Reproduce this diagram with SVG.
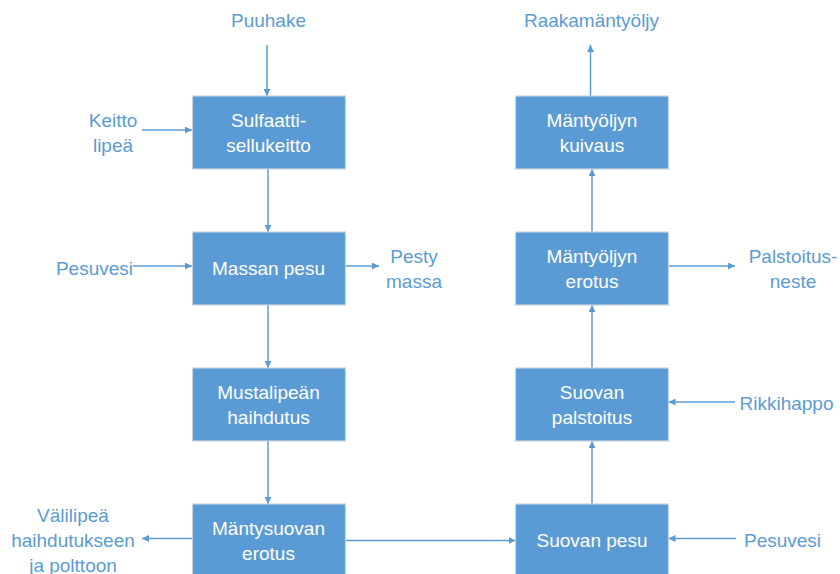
<svg xmlns="http://www.w3.org/2000/svg" width="840" height="574" viewBox="0 0 840 574">
<style>
.box{fill:#5B9BD5;stroke:#C9D3DF;stroke-width:1.2}
.bt{fill:#FFFFFF;font-family:"Liberation Sans",Arial,sans-serif;font-size:19px;text-anchor:middle}
.lt{fill:#5B9BD5;font-family:"Liberation Sans",Arial,sans-serif;font-size:19px}
.c{stroke:#5B9BD5;stroke-width:1.5;fill:none;marker-end:url(#ah)}
</style>
<defs>
<marker id="ah" viewBox="0 0 10 10" refX="10" refY="5" markerWidth="7" markerHeight="7" markerUnits="userSpaceOnUse" orient="auto">
<path d="M0,0 L10,5 L0,10 Z" fill="#5B9BD5"/>
</marker>
</defs>
<rect width="840" height="574" fill="#FFFFFF"/>
<g id="connectors">
<line class="c" x1="267" y1="45" x2="267" y2="96"/>
<line class="c" x1="142" y1="130" x2="192" y2="130"/>
<line class="c" x1="268" y1="169" x2="268" y2="232"/>
<line class="c" x1="133" y1="266" x2="192" y2="266"/>
<line class="c" x1="345" y1="266" x2="379" y2="266"/>
<line class="c" x1="268" y1="305" x2="268" y2="368"/>
<line class="c" x1="268" y1="441" x2="268" y2="504"/>
<line class="c" x1="192" y1="538.5" x2="142" y2="538.5"/>
<line class="c" x1="345" y1="540.5" x2="515.5" y2="540.5"/>
<line class="c" x1="592" y1="504" x2="592" y2="441"/>
<line class="c" x1="592" y1="368" x2="592" y2="305"/>
<line class="c" x1="592" y1="232" x2="592" y2="169"/>
<line class="c" x1="590.5" y1="96" x2="590.5" y2="45"/>
<line class="c" x1="668.5" y1="266" x2="735" y2="266"/>
<line class="c" x1="735" y1="402" x2="668.5" y2="402"/>
<line class="c" x1="736" y1="538.5" x2="668.5" y2="538.5"/>
</g>
<g id="n1"><rect class="box" x="192.5" y="96" width="153" height="73"/><text class="bt" x="268.5" y="127">Sulfaatti-</text><text class="bt" x="268.5" y="152">sellukeitto</text></g>
<g id="n2"><rect class="box" x="192.5" y="232" width="153" height="73"/><text class="bt" x="268.5" y="275">Massan pesu</text></g>
<g id="n3"><rect class="box" x="192.5" y="368" width="153" height="73"/><text class="bt" x="268.5" y="398.5">Mustalipeän</text><text class="bt" x="268.5" y="424">haihdutus</text></g>
<g id="n4"><rect class="box" x="192.5" y="504" width="153" height="73"/><text class="bt" x="268.5" y="535">Mäntysuovan</text><text class="bt" x="268.5" y="559.5">erotus</text></g>
<g id="n5"><rect class="box" x="515.5" y="96" width="153" height="73"/><text class="bt" x="592" y="126.5">Mäntyöljyn</text><text class="bt" x="592" y="151.5">kuivaus</text></g>
<g id="n6"><rect class="box" x="515.5" y="232" width="153" height="73"/><text class="bt" x="592" y="262.5">Mäntyöljyn</text><text class="bt" x="592" y="287.5">erotus</text></g>
<g id="n7"><rect class="box" x="515.5" y="368" width="153" height="73"/><text class="bt" x="592" y="398.5">Suovan</text><text class="bt" x="592" y="424">palstoitus</text></g>
<g id="n8"><rect class="box" x="515.5" y="504" width="153" height="73"/><text class="bt" x="592" y="547">Suovan pesu</text></g>
<g id="labels">
<text class="lt" x="268.5" y="27" text-anchor="middle">Puuhake</text>
<text class="lt" x="113" y="126.5" text-anchor="middle">Keitto</text>
<text class="lt" x="113" y="151.5" text-anchor="middle">lipeä</text>
<text class="lt" x="133" y="275" text-anchor="end">Pesuvesi</text>
<text class="lt" x="414" y="262.5" text-anchor="middle">Pesty</text>
<text class="lt" x="414" y="287.5" text-anchor="middle">massa</text>
<text class="lt" x="73" y="521.5" text-anchor="middle">Välilipeä</text>
<text class="lt" x="73" y="546.5" text-anchor="middle">haihdutukseen</text>
<text class="lt" x="73" y="571.5" text-anchor="middle">ja polttoon</text>
<text class="lt" x="591.5" y="27" text-anchor="middle">Raakamäntyöljy</text>
<text class="lt" x="793" y="262.5" text-anchor="middle">Palstoitus-</text>
<text class="lt" x="793" y="287.5" text-anchor="middle">neste</text>
<text class="lt" x="739.5" y="410">Rikkihappo</text>
<text class="lt" x="744" y="547">Pesuvesi</text>
</g>
</svg>
